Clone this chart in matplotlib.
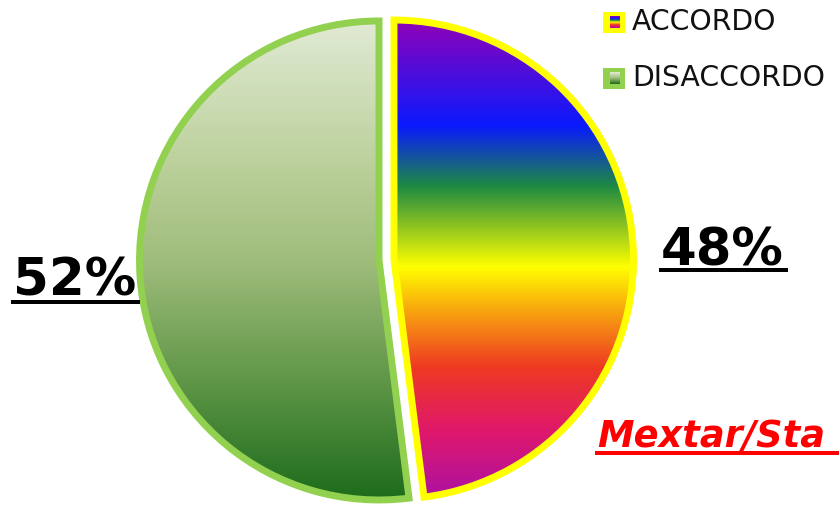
import numpy as np
import matplotlib
matplotlib.use("Agg")
import matplotlib.pyplot as plt
from matplotlib.colors import LinearSegmentedColormap
from matplotlib.lines import Line2D

# Data
categories = ["ACCORDO", "DISACCORDO"]
values = [48, 52]
edge_colors = ["#ffff00", "#92d050"]
source_text = "Mextar/Sta"

# Vertical gradients for each slice (top -> bottom)
rainbow = LinearSegmentedColormap.from_list("rainbow_fill", [
    (0.00, "#9600b4"), (0.225, "#0a1aff"), (0.35, "#1e8a42"),
    (0.515, "#ffff00"), (0.61, "#f8a010"), (0.72, "#ee3a22"),
    (0.85, "#e0186a"), (1.00, "#a810a8")])
greens = LinearSegmentedColormap.from_list("green_fill", [
    (0.00, "#e2ebd6"), (0.30, "#bcd19c"), (0.50, "#a0bd7c"),
    (0.75, "#5f9647"), (1.00, "#1a6a1a")])
fills = [rainbow, greens]

W, H = 839, 505
fig = plt.figure(figsize=(W / 100, H / 100), dpi=100)
ax = fig.add_axes([0, 0, 1, 1])

cx, cy, R = 386.5, 245, 239.5
wedges, _ = ax.pie(values, startangle=90, counterclock=False,
                   explode=[7.5, 7.5], radius=R, center=(cx, cy),
                   wedgeprops=dict(facecolor="none", linewidth=5))
grad = np.linspace(0, 1, 512).reshape(-1, 1)
for w, cmap, ec in zip(wedges, fills, edge_colors):
    w.set_edgecolor(ec)
    w.set_zorder(3)
    im = ax.imshow(grad, cmap=cmap, aspect="auto", origin="upper",
                   extent=(cx - R - 20, cx + R + 20, cy - R - 5, cy + R + 5),
                   zorder=2, interpolation="bilinear")
    im.set_clip_path(w)

ax.set_xlim(0, W)
ax.set_ylim(0, H)
ax.axis("off")

# Percentage labels
pct_texts = [
    ax.text(661, H - 265, f"{values[0]}%", fontsize=37, fontweight="bold",
            color="black", va="baseline", ha="left"),
    ax.text(13, H - 296, f"{values[1]}%", fontsize=37, fontweight="bold",
            color="black", va="baseline", ha="left"),
]
src = ax.text(597, H - 447, source_text, fontsize=26.5, fontweight="bold",
              style="italic", color="#ff0000", va="baseline", ha="left")

# Legend
legend_y = [22, 78]
for name, ec, cmap, ly in zip(categories, edge_colors, fills, legend_y):
    y = H - ly
    box = plt.Rectangle((603, y - 10.5), 22, 21, facecolor=ec, edgecolor="none",
                        zorder=4)
    ax.add_patch(box)
    ax.imshow(grad, cmap=cmap, aspect="auto", origin="upper",
              extent=(609.5, 619.5, y - 6, y + 6), zorder=5,
              interpolation="bilinear")
    ax.text(632, y, name, fontsize=20.3, color="#111111", va="center",
            ha="left", zorder=5)
ax.set_xlim(0, W)
ax.set_ylim(0, H)

# Underlines beneath the bold labels
fig.canvas.draw()
renderer = fig.canvas.get_renderer()
for t, color, off, lw in [(pct_texts[0], "black", 5, 4), (pct_texts[1], "black", 6, 4),
                          (src, "#ff0000", 6, 4)]:
    bb = t.get_window_extent(renderer)
    x0, x1 = bb.x0 - 2, bb.x1 + 4
    if t is src:
        x1 = W + 10
    _, base = ax.transData.transform((0, t.get_position()[1]))
    yline = base - off
    fig.add_artist(Line2D([x0 / W, x1 / W], [yline / H, yline / H],
                          color=color, linewidth=lw * 0.72,
                          transform=fig.transFigure, solid_capstyle="butt"))

fig.savefig("out.png", dpi=100)
